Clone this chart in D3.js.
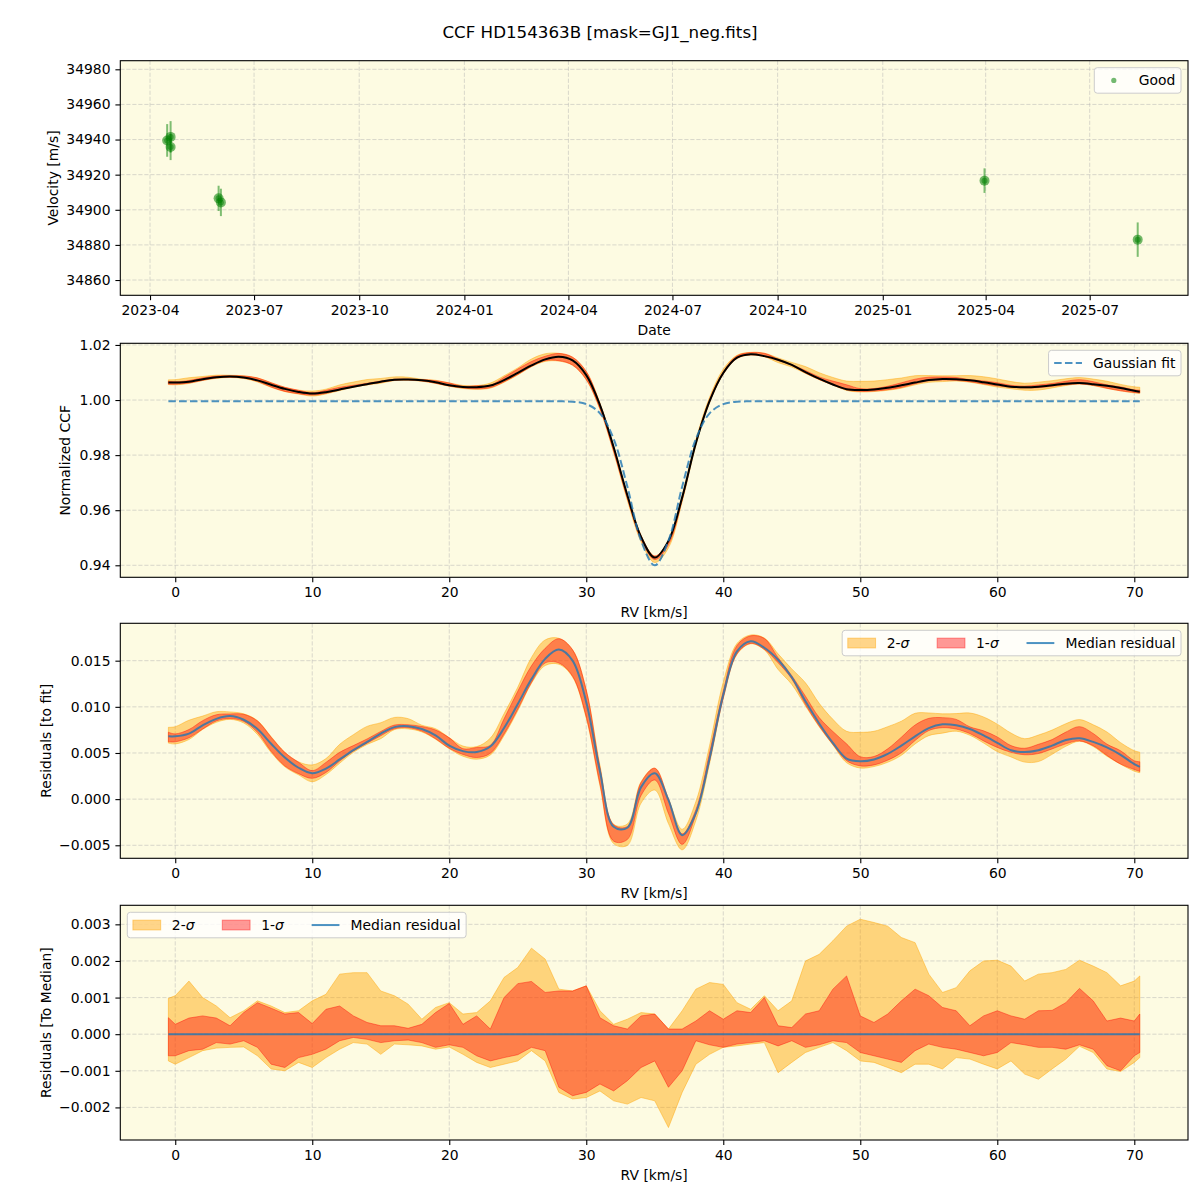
<!DOCTYPE html>
<html>
<head>
<meta charset="utf-8">
<script src="https://cdn.jsdelivr.net/npm/d3@7"></script>
<style>
  body { margin: 0; background: #fff; }
  text { font-family: "DejaVu Sans", sans-serif; }
</style>
</head>
<body>
<div id="chart"></div>
<script>
// ---- RV time series (top panel)
const obsDates = ["2023-04-16", "2023-04-19", "2023-04-19", "2023-05-31", "2023-06-02", "2025-03-31", "2025-08-12"];
const obsVel = [34939.5, 34941.5, 34935.8, 34906.5, 34904.2, 34916.6, 34883.0];
const obsErr = [9.3, 9.0, 7.5, 7.2, 7.8, 7.0, 9.8];
const dateTicks = ["2023-04-01", "2023-07-01", "2023-10-01", "2024-01-01", "2024-04-01",
                   "2024-07-01", "2024-10-01", "2025-01-01", "2025-04-01", "2025-07-01"];
const velTicks = [34860, 34880, 34900, 34920, 34940, 34960, 34980];

// ---- CCF grid [km/s]
const rv = [-0.5, 0, 1, 2, 3, 4, 5, 6, 7, 8, 9, 10, 11, 12, 13, 14, 15, 16, 17, 18, 19, 20,
            21, 22, 23, 24, 25, 26, 27, 28, 29, 30, 31, 32, 33, 34, 35, 36, 37, 38, 39, 40,
            41, 42, 43, 44, 45, 46, 47, 48, 49, 50, 51, 52, 53, 54, 55, 56, 57, 58, 59, 60,
            61, 62, 63, 64, 65, 66, 67, 68, 69, 70, 70.4];

// gaussian fit of the CCF
const gaussFit = [
  0.99955, 0.99955, 0.99955, 0.99955, 0.99955, 0.99955, 0.99955, 0.99955, 0.99955, 0.99955,
  0.99955, 0.99955, 0.99955, 0.99955, 0.99955, 0.99955, 0.99955, 0.99955, 0.99955, 0.99955,
  0.99955, 0.99955, 0.99955, 0.99955, 0.99955, 0.99955, 0.99955, 0.99955, 0.99955,
  0.99953, 0.99938, 0.99854, 0.99518, 0.98585, 0.96856, 0.94897, 0.94000, 0.94897, 0.96856,
  0.98585, 0.99518, 0.99854, 0.99938, 0.99953,
  0.99955, 0.99955, 0.99955, 0.99955, 0.99955, 0.99955, 0.99955, 0.99955, 0.99955, 0.99955,
  0.99955, 0.99955, 0.99955, 0.99955, 0.99955, 0.99955, 0.99955, 0.99955, 0.99955, 0.99955,
  0.99955, 0.99955, 0.99955, 0.99955, 0.99955, 0.99955, 0.99955, 0.99955, 0.99955];

// median residual to the fit
const medianResid = [
  0.0068, 0.0068, 0.0071, 0.0080, 0.0087, 0.0090, 0.0086, 0.0076, 0.0060, 0.0045,
  0.0034, 0.0028, 0.0033, 0.0043, 0.0053, 0.0062, 0.0071, 0.0078, 0.0079, 0.0076,
  0.0069, 0.0058, 0.0052, 0.0051, 0.0057, 0.0077, 0.0103, 0.0130, 0.0152, 0.0162,
  0.0150, 0.0105, 0.0030, -0.0030, -0.0031, 0.0013, 0.0028, -0.0001, -0.0039, -0.0015,
  0.0044, 0.0113, 0.0160, 0.0171, 0.0164, 0.0151, 0.0132, 0.0106, 0.0082, 0.0061,
  0.0044, 0.0041, 0.0043, 0.0049, 0.0058, 0.0068, 0.0077, 0.0081, 0.0080, 0.0076,
  0.0069, 0.0061, 0.0053, 0.0051, 0.0053, 0.0058, 0.0064, 0.0066, 0.0062, 0.0056,
  0.0048, 0.0038, 0.0035];

// percentile offsets from the median (97.5, 84, 16, 2.5)
const dev2hi = [
  0.00098, 0.00105, 0.00145, 0.00100, 0.00077, 0.00045, 0.00064, 0.00091, 0.00077, 0.00059,
  0.00064, 0.00091, 0.00109, 0.00164, 0.00168, 0.00168, 0.00118, 0.00105, 0.00082, 0.00041,
  0.00073, 0.00086, 0.00055, 0.00059, 0.00091, 0.00155, 0.00182, 0.00235, 0.00205, 0.00123,
  0.00118, 0.00132, 0.00064, 0.00027, 0.00041, 0.00059, 0.00055, 0.00014, 0.00064, 0.00123,
  0.00141, 0.00136, 0.00086, 0.00068, 0.00105, 0.00064, 0.00091, 0.00200, 0.00218, 0.00255,
  0.00295, 0.00314, 0.00305, 0.00295, 0.00264, 0.00250, 0.00164, 0.00114, 0.00127, 0.00173,
  0.00200, 0.00202, 0.00186, 0.00145, 0.00164, 0.00168, 0.00177, 0.00202, 0.00186, 0.00168,
  0.00132, 0.00145, 0.00159];
const dev1hi = [
  0.00045, 0.00027, 0.00044, 0.00050, 0.00044, 0.00023, 0.00059, 0.00086, 0.00071, 0.00055,
  0.00059, 0.00029, 0.00068, 0.00077, 0.00050, 0.00032, 0.00023, 0.00023, 0.00016, 0.00027,
  0.00059, 0.00084, 0.00027, 0.00050, 0.00014, 0.00100, 0.00138, 0.00144, 0.00114, 0.00118,
  0.00118, 0.00132, 0.00045, 0.00023, 0.00014, 0.00050, 0.00055, 0.00014, 0.00014, 0.00036,
  0.00064, 0.00041, 0.00064, 0.00059, 0.00100, 0.00023, 0.00018, 0.00055, 0.00064, 0.00123,
  0.00159, 0.00050, 0.00032, 0.00055, 0.00091, 0.00123, 0.00105, 0.00073, 0.00064, 0.00023,
  0.00050, 0.00064, 0.00050, 0.00041, 0.00064, 0.00065, 0.00086, 0.00125, 0.00091, 0.00036,
  0.00044, 0.00036, 0.00055];
const dev1lo = [
  -0.00059, -0.00059, -0.00045, -0.00041, -0.00023, -0.00027, -0.00018, -0.00036, -0.00082, -0.00091,
  -0.00064, -0.00055, -0.00041, -0.00018, -0.00009, -0.00014, -0.00023, -0.00018, -0.00016, -0.00023,
  -0.00036, -0.00029, -0.00036, -0.00059, -0.00073, -0.00064, -0.00056, -0.00036, -0.00045, -0.00145,
  -0.00168, -0.00159, -0.00136, -0.00155, -0.00127, -0.00091, -0.00073, -0.00145, -0.00100, -0.00018,
  -0.00029, -0.00036, -0.00027, -0.00023, -0.00018, -0.00032, -0.00018, -0.00036, -0.00029, -0.00018,
  -0.00023, -0.00050, -0.00059, -0.00068, -0.00077, -0.00045, -0.00027, -0.00036, -0.00041, -0.00050,
  -0.00059, -0.00050, -0.00023, -0.00029, -0.00036, -0.00036, -0.00041, -0.00029, -0.00041, -0.00086,
  -0.00100, -0.00059, -0.00050];
const dev2lo = [
  -0.00073, -0.00082, -0.00064, -0.00045, -0.00038, -0.00036, -0.00035, -0.00059, -0.00095, -0.00100,
  -0.00077, -0.00091, -0.00064, -0.00041, -0.00023, -0.00027, -0.00055, -0.00027, -0.00029, -0.00032,
  -0.00041, -0.00035, -0.00055, -0.00077, -0.00091, -0.00082, -0.00073, -0.00045, -0.00073, -0.00159,
  -0.00177, -0.00173, -0.00155, -0.00182, -0.00191, -0.00173, -0.00182, -0.00255, -0.00159, -0.00082,
  -0.00055, -0.00036, -0.00032, -0.00027, -0.00023, -0.00105, -0.00077, -0.00050, -0.00036, -0.00023,
  -0.00045, -0.00073, -0.00077, -0.00091, -0.00105, -0.00082, -0.00082, -0.00095, -0.00064, -0.00068,
  -0.00082, -0.00095, -0.00073, -0.00109, -0.00123, -0.00095, -0.00068, -0.00033, -0.00050, -0.00095,
  -0.00102, -0.00077, -0.00064];

const rvTicks = [0, 10, 20, 30, 40, 50, 60, 70];
const ccfTicks = [0.94, 0.96, 0.98, 1.00, 1.02];
const residTicks = [-0.005, 0.000, 0.005, 0.010, 0.015];
const medTicks = [-0.002, -0.001, 0.000, 0.001, 0.002, 0.003];

// ---- layout
const left = 120.3, right = 1188;
const panels = [
  { top: 60.7, bottom: 295.3 },
  { top: 343.3, bottom: 577.3 },
  { top: 623.3, bottom: 858.3 },
  { top: 905.3, bottom: 1140 }
];
const bg = "#fdfbe2";
const fs = 13.9;
const c2 = "#ffa500", c1 = "#ff0000", a2 = 0.45, a1 = 0.4;
const blue = "#1f77b4";

const svg = d3.select("#chart").append("svg")
    .attr("width", 1200)
    .attr("height", 1200)
    .style("background", "#fff");

svg.append("text")
    .attr("x", 600).attr("y", 38)
    .attr("text-anchor", "middle")
    .style("font-size", "16.7px")
    .text("CCF HD154363B [mask=GJ1_neg.fits]");

// background + grid of a panel
function back(p, x, y, xt, yt) {
  const g = svg.append("g");
  g.append("rect")
      .attr("x", left).attr("y", p.top)
      .attr("width", right - left).attr("height", p.bottom - p.top)
      .attr("fill", bg);
  const gridStyle = sel => sel.attr("stroke", "#b0b0b0").attr("stroke-opacity", 0.6)
      .attr("stroke-width", 0.8).attr("stroke-dasharray", "4.2,1.8");
  g.selectAll(".gx").data(xt).join("line")
      .attr("x1", d => x(d)).attr("x2", d => x(d))
      .attr("y1", p.top).attr("y2", p.bottom)
      .call(gridStyle);
  g.selectAll(".gy").data(yt).join("line")
      .attr("x1", left).attr("x2", right)
      .attr("y1", d => y(d)).attr("y2", d => y(d))
      .call(gridStyle);
  return svg.append("g");
}

// spines, ticks and labels of a panel
function front(p, x, y, xt, yt, xf, yf, xLabel, yLabel, yLabelX) {
  const g = svg.append("g");
  const xa = g.append("g")
      .attr("transform", `translate(0,${p.bottom})`)
      .call(d3.axisBottom(x).tickValues(xt).tickFormat(xf).tickSizeOuter(0).tickSize(4.9).tickPadding(4.9));
  const ya = g.append("g")
      .attr("transform", `translate(${left},0)`)
      .call(d3.axisLeft(y).tickValues(yt).tickFormat(yf).tickSizeOuter(0).tickSize(4.9).tickPadding(4.9));
  [xa, ya].forEach(a => {
    a.select(".domain").remove();
    a.selectAll("line").attr("stroke", "#000").attr("stroke-width", 1.1);
    a.selectAll("text").attr("font-family", "DejaVu Sans").style("font-size", fs + "px").attr("fill", "#000");
  });
  g.append("rect")
      .attr("x", left).attr("y", p.top)
      .attr("width", right - left).attr("height", p.bottom - p.top)
      .attr("fill", "none").attr("stroke", "#000").attr("stroke-width", 1.1);
  g.append("text")
      .attr("x", (left + right) / 2).attr("y", p.bottom + 40)
      .attr("text-anchor", "middle").style("font-size", fs + "px")
      .text(xLabel);
  g.append("text")
      .attr("transform", `translate(${yLabelX},${(p.top + p.bottom) / 2}) rotate(-90)`)
      .attr("dy", "0.35em")
      .attr("text-anchor", "middle").style("font-size", fs + "px")
      .text(yLabel);
}

// legend box, sized from its labels
function legend(items, ax, top, alignRight) {
  const g = svg.append("g");
  const box = g.append("rect");
  const pad = 5.6, hl = 27.8, hp = 11.1, cs = 27.8, h = 25.5, cy = h / 2;
  let cx = pad;
  items.forEach(it => {
    if (it.type === "marker") {
      g.append("circle").attr("cx", cx + hl / 2).attr("cy", cy).attr("r", 2.6)
          .attr("fill", "green").attr("fill-opacity", 0.55);
    } else if (it.type === "dash") {
      g.append("line").attr("x1", cx).attr("x2", cx + hl).attr("y1", cy).attr("y2", cy)
          .attr("stroke", blue).attr("stroke-opacity", 0.8).attr("stroke-width", 2)
          .attr("stroke-dasharray", "7.5,3.3");
    } else if (it.type === "line") {
      g.append("line").attr("x1", cx).attr("x2", cx + hl).attr("y1", cy).attr("y2", cy)
          .attr("stroke", blue).attr("stroke-opacity", 0.8).attr("stroke-width", 2);
    } else {
      g.append("rect").attr("x", cx).attr("y", cy - 4.9).attr("width", hl).attr("height", 9.8)
          .attr("fill", it.color).attr("fill-opacity", it.alpha)
          .attr("stroke", it.color).attr("stroke-opacity", it.alpha);
    }
    const t = g.append("text")
        .attr("x", cx + hl + hp).attr("y", cy).attr("dy", "0.35em")
        .style("font-size", fs + "px");
    t.append("tspan").text(it.label);
    if (it.sigma) t.append("tspan").attr("font-style", "italic").text("σ");
    cx += hl + hp + t.node().getComputedTextLength() + cs;
  });
  const w = cx - cs + pad;
  box.attr("width", w).attr("height", h).attr("rx", 3)
      .attr("fill", "#fff").attr("fill-opacity", 0.8)
      .attr("stroke", "#cccccc").attr("stroke-width", 1);
  g.attr("transform", `translate(${alignRight ? ax - w : ax},${top})`);
}

// ---- panel 1: velocities
const parseDate = d3.utcParse("%Y-%m-%d");
const obs = obsDates.map((d, i) => ({ date: parseDate(d), v: obsVel[i], e: obsErr[i] }));
const p1 = panels[0];
const x1 = d3.scaleUtc().domain([parseDate("2023-03-06"), parseDate("2025-09-25")]).range([left, right]);
const y1 = d3.scaleLinear().domain([34851.3, 34984.9]).range([p1.bottom, p1.top]);
const dTicks = dateTicks.map(parseDate);
const g1 = back(p1, x1, y1, dTicks, velTicks);
g1.selectAll(".err").data(obs).join("line")
    .attr("x1", d => x1(d.date)).attr("x2", d => x1(d.date))
    .attr("y1", d => y1(d.v - d.e)).attr("y2", d => y1(d.v + d.e))
    .attr("stroke", "green").attr("stroke-opacity", 0.5).attr("stroke-width", 2);
g1.selectAll(".pt").data(obs).join("circle")
    .attr("cx", d => x1(d.date)).attr("cy", d => y1(d.v))
    .attr("r", 5).attr("fill", "green").attr("fill-opacity", 0.55);
g1.selectAll(".pti").data(obs).join("circle")
    .attr("cx", d => x1(d.date)).attr("cy", d => y1(d.v))
    .attr("r", 3).attr("fill", "green").attr("fill-opacity", 0.5);
front(p1, x1, y1, dTicks, velTicks, d3.utcFormat("%Y-%m"), d3.format("d"), "Date", "Velocity [m/s]", 53.3);
legend([{ type: "marker", label: "Good" }], right - 7, p1.top + 7, true);

// ---- shared RV scale and rows
const x = d3.scaleLinear().domain([-4.01, 73.92]).range([left, right]);
const rows = rv.map((r, i) => ({
  rv: r, fit: gaussFit[i], m: medianResid[i],
  h2: dev2hi[i], h1: dev1hi[i], l1: dev1lo[i], l2: dev2lo[i]
}));

function bands(g, y, base, curve) {
  const area = (lo, hi) => d3.area().curve(curve).x(d => x(d.rv))
      .y0(d => y(base(d) + d[lo])).y1(d => y(base(d) + d[hi]));
  g.append("path").datum(rows).attr("d", area("l2", "h2"))
      .attr("fill", c2).attr("fill-opacity", a2)
      .attr("stroke", c2).attr("stroke-opacity", a2).attr("stroke-width", 1);
  g.append("path").datum(rows).attr("d", area("l1", "h1"))
      .attr("fill", c1).attr("fill-opacity", a1)
      .attr("stroke", c1).attr("stroke-opacity", a1).attr("stroke-width", 1);
}
const smooth = d3.curveCatmullRom.alpha(0.5);

// ---- panel 2: CCF
const p2 = panels[1];
const y2 = d3.scaleLinear().domain([0.93564, 1.0206]).range([p2.bottom, p2.top]);
const g2 = back(p2, x, y2, rvTicks, ccfTicks);
bands(g2, y2, d => d.fit + d.m, smooth);
g2.append("path").datum(rows)
    .attr("d", d3.line().curve(smooth).x(d => x(d.rv)).y(d => y2(d.fit + d.m)))
    .attr("fill", "none").attr("stroke", "#000").attr("stroke-width", 2);
g2.append("path").datum(rows)
    .attr("d", d3.line().curve(smooth).x(d => x(d.rv)).y(d => y2(d.fit)))
    .attr("fill", "none").attr("stroke", blue).attr("stroke-opacity", 0.8)
    .attr("stroke-width", 2).attr("stroke-dasharray", "7.5,3.3");
front(p2, x, y2, rvTicks, ccfTicks, d3.format("d"), d3.format(".2f"), "RV [km/s]", "Normalized CCF", 65);
legend([{ type: "dash", label: "Gaussian fit" }], right - 7, p2.top + 7, true);

// ---- panel 3: residuals to fit
const p3 = panels[2];
const y3 = d3.scaleLinear().domain([-0.00641, 0.01905]).range([p3.bottom, p3.top]);
const g3 = back(p3, x, y3, rvTicks, residTicks);
bands(g3, y3, d => d.m, smooth);
g3.append("path").datum(rows)
    .attr("d", d3.line().curve(smooth).x(d => x(d.rv)).y(d => y3(d.m)))
    .attr("fill", "none").attr("stroke", blue).attr("stroke-opacity", 0.8).attr("stroke-width", 2);
front(p3, x, y3, rvTicks, residTicks, d3.format("d"), d3.format(".3f"), "RV [km/s]", "Residuals [to fit]", 45.7);
const sigmaItems = [
  { type: "patch", label: "2-", sigma: true, color: c2, alpha: a2 },
  { type: "patch", label: "1-", sigma: true, color: c1, alpha: a1 },
  { type: "line", label: "Median residual" }
];
legend(sigmaItems, right - 7, p3.top + 7, true);

// ---- panel 4: residuals to median
const p4 = panels[3];
const y4 = d3.scaleLinear().domain([-0.00289, 0.00352]).range([p4.bottom, p4.top]);
const g4 = back(p4, x, y4, rvTicks, medTicks);
bands(g4, y4, d => 0, d3.curveLinear);
g4.append("path").datum(rows)
    .attr("d", d3.line().x(d => x(d.rv)).y(d => y4(0)))
    .attr("fill", "none").attr("stroke", blue).attr("stroke-opacity", 0.8).attr("stroke-width", 2);
front(p4, x, y4, rvTicks, medTicks, d3.format("d"), d3.format(".3f"), "RV [km/s]", "Residuals [To Median]", 45.7);
legend(sigmaItems, left + 7, p4.top + 7, false);
</script>
</body>
</html>
